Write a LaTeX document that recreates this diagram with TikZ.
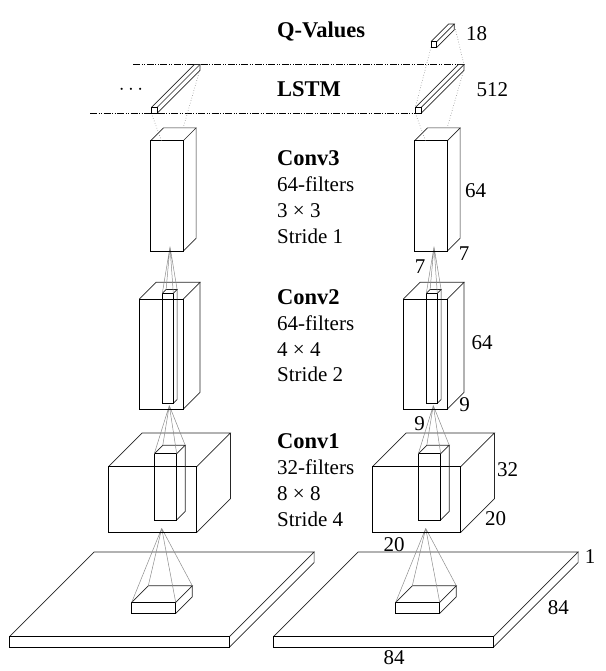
\documentclass[tikz,border=0pt]{standalone}
\usepackage{fontspec}
\setmainfont{Liberation Serif}
\tikzset{
  frontline/.style={draw=black,line width=0.9pt},
  backline/.style={draw=black!85,line width=0.7pt},
  rfline/.style={draw=black!45,line width=0.5pt},
  dotline/.style={draw=black!50,line width=0.6pt,dotted},
  planeline/.style={draw=black,line width=0.6pt,dash pattern=on 7pt off 1.5pt on 1pt off 1.5pt on 1pt off 1.5pt},
  lab/.style={inner sep=0pt,anchor=base,font=\fontsize{21}{25}\selectfont},
  mid/.style={inner sep=0pt,anchor=base west,font=\fontsize{21}{25}\selectfont},
  midb/.style={inner sep=0pt,anchor=base west,font=\fontsize{22.5}{27}\selectfont\bfseries},
}
% #1,#2 = front bottom-left corner, #3 = width, #4 = height, #5 = depth
\newcommand{\cuboid}[5]{%
  \draw[backline] (#1,#2-#4) -- ++(#5,-#5) -- ++(#3,0) -- ++(-#5,#5);
  \draw[backline] (#1+#3,#2) -- ++(#5,-#5) -- ++(0,-#4);
  \draw[frontline] (#1,#2) rectangle ++(#3,-#4);
}
\newcommand{\netcolumn}{%
  % input plane
  \cuboid{9.3}{647.3}{220}{10.6}{84.8}
  % filter on input
  \cuboid{131.7}{613.3}{44}{11}{16.6}
  \coordinate (a1) at (161.7,528.3);
  \draw[rfline] (131.7,602.3) -- (a1) (175.7,602.3) -- (a1) (148.3,585.7) -- (a1) (192.3,585.7) -- (a1);
  % conv1
  \cuboid{108.3}{532.3}{88.4}{65.6}{33.7}
  \cuboid{154.3}{520}{22.4}{66.3}{8.5}
  \coordinate (a2) at (169.3,405.5);
  \draw[rfline] (154.3,453.7) -- (a2) (176.7,453.7) -- (a2) (162.8,445.2) -- (a2) (185.2,445.2) -- (a2);
  % conv2
  \cuboid{139.3}{409}{44}{110}{16.7}
  \cuboid{162.3}{403.3}{11}{110}{3.8}
  \coordinate (a3) at (170,246.7);
  \draw[rfline] (162.3,293.3) -- (a3) (173.3,293.3) -- (a3) (166.1,289.5) -- (a3) (177.1,289.5) -- (a3);
  % conv3
  \cuboid{150.7}{251}{32.6}{110.3}{12.8}
  % LSTM unit
  \draw[dotline] (151.3,113.3) -- (161.7,141) (199.7,70.3) -- (183.3,127.7);
  \cuboid{151.3}{113.3}{5.7}{5.8}{43}
}
\begin{document}
\begin{tikzpicture}[x=1pt,y=-1pt]
\useasboundingbox (0,0) rectangle (605,671);
% LSTM plane
\draw[planeline] (133.3,64.5) -- (463.3,64.5);
\draw[planeline] (90,113.3) -- (415.3,113.3);
\netcolumn
\begin{scope}[xshift=264pt]
\netcolumn
\end{scope}
% Q-values
\draw[dotline] (431,47.3) -- (415.3,107.5) (454.2,24.1) -- (463.9,64.5);
\cuboid{431}{47.3}{5.7}{5.7}{17.5}
% middle labels
\node[midb] (tq) at (277,37.3) {Q-Values};
\node[midb] (tl) at (277,96.7) {LSTM};
\node[lab] (dots) at (131,95) {$\cdots$};
\node[midb] (c3a) at (277,165) {Conv3};
\node[mid] (c3b) at (277,191) {64-filters};
\node[mid] (c3c) at (277,217) {3 × 3};
\node[mid] (c3d) at (277,243) {Stride 1};
\node[midb] (c2a) at (277,304) {Conv2};
\node[mid] (c2b) at (277,330) {64-filters};
\node[mid] (c2c) at (277,356) {4 × 4};
\node[mid] (c2d) at (277,381) {Stride 2};
\node[midb] (c1a) at (277,448) {Conv1};
\node[mid] (c1b) at (277,474) {32-filters};
\node[mid] (c1c) at (277,500) {8 × 8};
\node[mid] (c1d) at (277,526) {Stride 4};
% dimension labels
\node[lab] (d18) at (476.5,40.7) {18};
\node[lab] (d512) at (492.3,96.7) {512};
\node[lab] (d64a) at (475.7,197.3) {64};
\node[lab] (d7a) at (464,260) {7};
\node[lab] (d7b) at (420,273) {7};
\node[lab] (d64b) at (482,349.3) {64};
\node[lab] (d9a) at (464.5,411.7) {9};
\node[lab] (d9b) at (419.5,430) {9};
\node[lab] (d32) at (507.5,476) {32};
\node[lab] (d20a) at (495.5,525) {20};
\node[lab] (d20b) at (394,551.7) {20};
\node[lab] (d1) at (590,563.3) {1};
\node[lab] (d84a) at (558.3,614) {84};
\node[lab] (d84b) at (394,664) {84};
\end{tikzpicture}
\end{document}
